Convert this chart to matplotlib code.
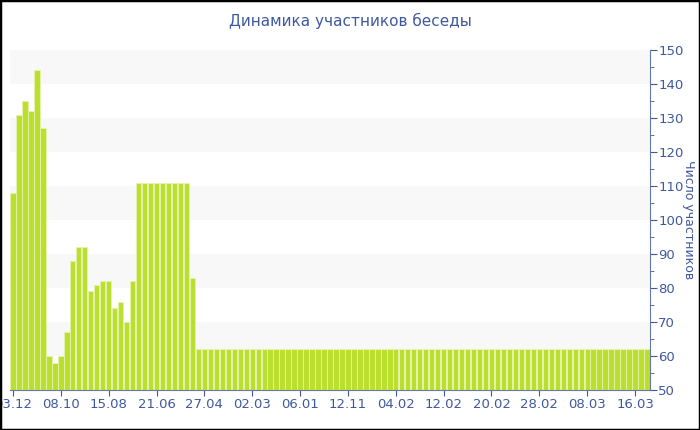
from matplotlib import pyplot as plt
from matplotlib.patches import Rectangle
from matplotlib.ticker import MultipleLocator
import numpy as np

# first part of the series, then a long flat stretch at 62
head_values = [108, 131, 135, 132, 144, 127, 60, 58, 60, 67,
               88, 92, 92, 79, 81, 82, 82, 74, 76, 70,
               82, 111, 111, 111, 111, 111, 111, 111, 111, 111,
               83]
tail_values = [62] * 76
members = head_values + tail_values

tick_labels = ['03.12', '08.10', '15.08', '21.06', '27.04', '02.03', '06.01',
               '12.11', '04.02', '12.02', '20.02', '28.02', '08.03', '16.03']

blue = '#3f58a0'
bar_color = '#bbdf2f'

fig = plt.figure(figsize=(7, 4.3), dpi=100)
ax = fig.add_axes([10 / 700, 40 / 430, 640 / 700, 340 / 430])

indices = np.arange(len(members))

# alternating light bands
for lo in range(60, 150, 20):
    ax.axhspan(lo, lo + 10, color='#f8f8f8', zorder=0, lw=0)

ax.bar(indices, members, width=0.9, color=bar_color,
       edgecolor='#e6f3b0', linewidth=0.6, zorder=2)

ax.set_xlim(-0.5, len(members) - 0.5)
ax.set_ylim(50, 150)

ax.yaxis.tick_right()
ax.yaxis.set_label_position('right')
ax.yaxis.set_major_locator(MultipleLocator(10))
ax.yaxis.set_minor_locator(MultipleLocator(5))
ax.tick_params(axis='y', which='both', colors=blue, labelsize=9.5, pad=1)
ax.tick_params(axis='y', which='major', length=5)
ax.tick_params(axis='y', which='minor', length=3)
ax.set_ylabel('Число участников', color=blue, rotation=270, labelpad=8, fontsize=9)

ax.set_xticks(indices[::8][:len(tick_labels)])
ax.set_xticklabels(tick_labels)
ax.tick_params(axis='x', colors=blue, labelsize=9.5, length=4, pad=2)

for side in ['top', 'left']:
    ax.spines[side].set_visible(False)
for side in ['right', 'bottom']:
    ax.spines[side].set_color('#6677aa')

fig.suptitle('Динамика участников беседы', color=blue, fontsize=11, y=0.97)

fig.patches.append(Rectangle((0, 0), 1, 1, transform=fig.transFigure,
                             fill=False, edgecolor='black', lw=2.5, zorder=10))

plt.savefig('out.png', dpi=100)
